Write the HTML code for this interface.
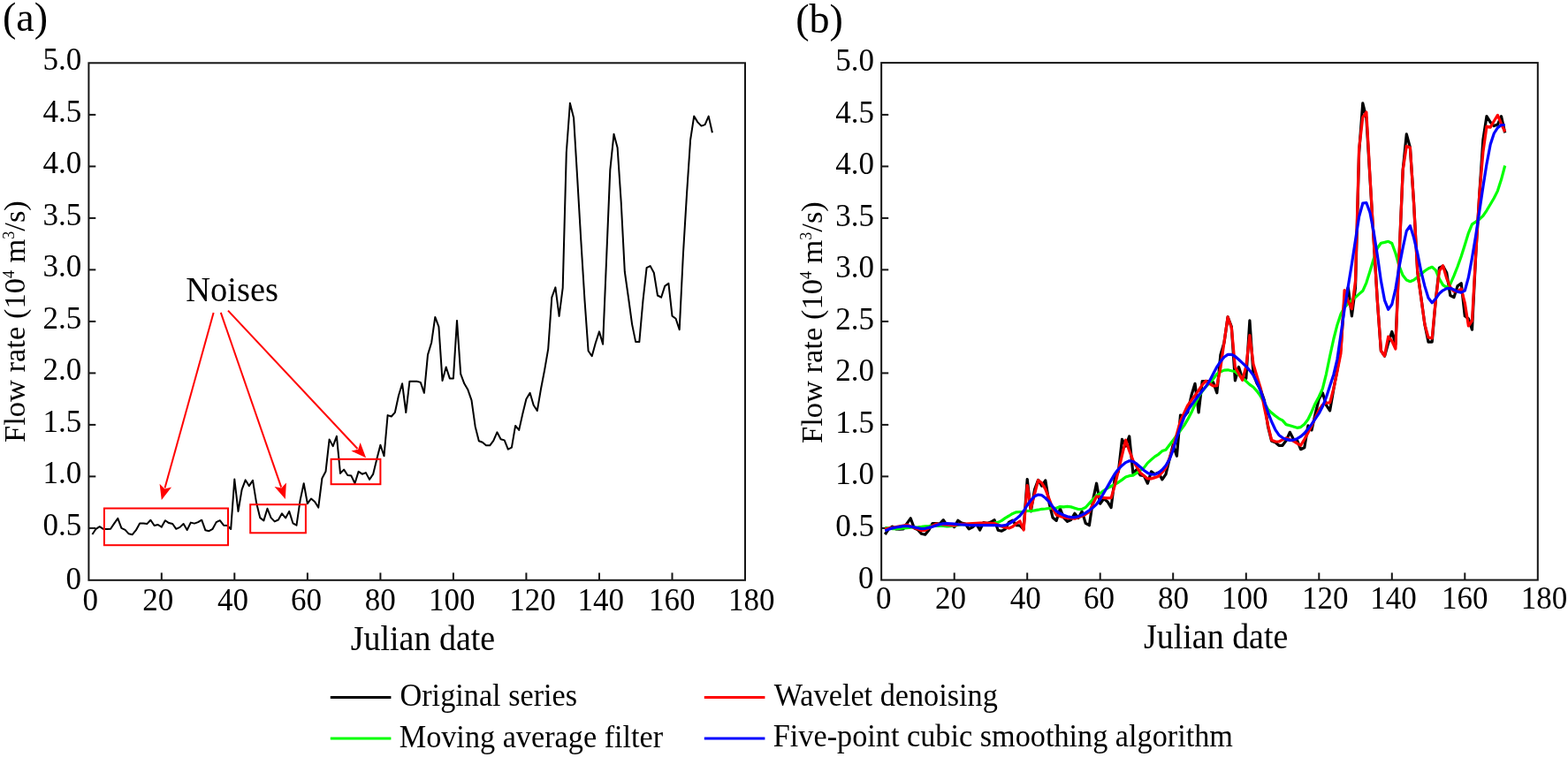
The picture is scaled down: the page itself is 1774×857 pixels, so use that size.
<!DOCTYPE html><html><head><meta charset="utf-8"><style>html,body{margin:0;padding:0;background:#fff;overflow:hidden}</style></head><body><svg width="1774" height="857" viewBox="0 0 1774 857" style="display:block">
<rect width="100%" height="100%" fill="#fff"/>
<style>.t{font-family:'Liberation Serif','Times New Roman',serif;font-size:36px;fill:#000}</style>
<rect x="100.4" y="71.3" width="742.60" height="585.50" fill="none" stroke="#151515" stroke-width="2"/>
<line x1="100.3" y1="597.9" x2="108.3" y2="597.9" stroke="#151515" stroke-width="2"/>
<line x1="100.3" y1="539.4" x2="108.3" y2="539.4" stroke="#151515" stroke-width="2"/>
<line x1="100.3" y1="480.9" x2="108.3" y2="480.9" stroke="#151515" stroke-width="2"/>
<line x1="100.3" y1="422.4" x2="108.3" y2="422.4" stroke="#151515" stroke-width="2"/>
<line x1="100.3" y1="363.9" x2="108.3" y2="363.9" stroke="#151515" stroke-width="2"/>
<line x1="100.3" y1="305.4" x2="108.3" y2="305.4" stroke="#151515" stroke-width="2"/>
<line x1="100.3" y1="246.9" x2="108.3" y2="246.9" stroke="#151515" stroke-width="2"/>
<line x1="100.3" y1="188.4" x2="108.3" y2="188.4" stroke="#151515" stroke-width="2"/>
<line x1="100.3" y1="129.9" x2="108.3" y2="129.9" stroke="#151515" stroke-width="2"/>
<line x1="182.8" y1="656.4" x2="182.8" y2="648.4" stroke="#151515" stroke-width="2"/>
<line x1="265.3" y1="656.4" x2="265.3" y2="648.4" stroke="#151515" stroke-width="2"/>
<line x1="347.9" y1="656.4" x2="347.9" y2="648.4" stroke="#151515" stroke-width="2"/>
<line x1="430.4" y1="656.4" x2="430.4" y2="648.4" stroke="#151515" stroke-width="2"/>
<line x1="512.9" y1="656.4" x2="512.9" y2="648.4" stroke="#151515" stroke-width="2"/>
<line x1="595.4" y1="656.4" x2="595.4" y2="648.4" stroke="#151515" stroke-width="2"/>
<line x1="678.0" y1="656.4" x2="678.0" y2="648.4" stroke="#151515" stroke-width="2"/>
<line x1="760.5" y1="656.4" x2="760.5" y2="648.4" stroke="#151515" stroke-width="2"/>
<text x="48.6" y="605.9" class="t" style="font-size:35px">0.5</text>
<text x="48.6" y="547.4" class="t" style="font-size:35px">1.0</text>
<text x="48.6" y="488.9" class="t" style="font-size:35px">1.5</text>
<text x="48.6" y="430.4" class="t" style="font-size:35px">2.0</text>
<text x="48.6" y="371.9" class="t" style="font-size:35px">2.5</text>
<text x="48.6" y="313.4" class="t" style="font-size:35px">3.0</text>
<text x="48.6" y="254.9" class="t" style="font-size:35px">3.5</text>
<text x="48.6" y="196.4" class="t" style="font-size:35px">4.0</text>
<text x="48.6" y="137.9" class="t" style="font-size:35px">4.5</text>
<text x="48.6" y="79.4" class="t" style="font-size:35px">5.0</text>
<text x="74.4" y="667.3" class="t" style="font-size:35px">0</text>
<text x="93.5" y="690.9" class="t" style="font-size:35px">0</text>
<text x="161.2" y="690.9" class="t" style="font-size:35px">20</text>
<text x="246.1" y="690.9" class="t" style="font-size:35px">40</text>
<text x="329.0" y="690.9" class="t" style="font-size:35px">60</text>
<text x="412.7" y="690.9" class="t" style="font-size:35px">80</text>
<text x="485.0" y="690.9" class="t" style="font-size:35px">100</text>
<text x="576.3" y="690.9" class="t" style="font-size:35px">120</text>
<text x="653.5" y="690.9" class="t" style="font-size:35px">140</text>
<text x="734.0" y="690.9" class="t" style="font-size:35px">160</text>
<text x="823.9" y="690.9" class="t" style="font-size:35px">180</text>
<text transform="translate(396.7,735.9) scale(1,1.035)" class="t" style="font-size:38px">Julian date</text>
<text x="3.0" y="34.6" class="t" style="font-size:46px">(a)</text>
<text transform="translate(27.5,501.0) rotate(-90)" class="t" style="font-size:34.5px">Flow rate (10<tspan dy="-12" font-size="18">4</tspan><tspan dy="12"> m</tspan><tspan dy="-12" font-size="18">3</tspan><tspan dy="12">/s)</tspan></text>
<rect x="997.15" y="71.1" width="742.65" height="585.50" fill="none" stroke="#151515" stroke-width="2"/>
<line x1="997.2" y1="597.9" x2="1005.2" y2="597.9" stroke="#151515" stroke-width="2"/>
<line x1="997.2" y1="539.4" x2="1005.2" y2="539.4" stroke="#151515" stroke-width="2"/>
<line x1="997.2" y1="480.9" x2="1005.2" y2="480.9" stroke="#151515" stroke-width="2"/>
<line x1="997.2" y1="422.4" x2="1005.2" y2="422.4" stroke="#151515" stroke-width="2"/>
<line x1="997.2" y1="363.9" x2="1005.2" y2="363.9" stroke="#151515" stroke-width="2"/>
<line x1="997.2" y1="305.4" x2="1005.2" y2="305.4" stroke="#151515" stroke-width="2"/>
<line x1="997.2" y1="246.9" x2="1005.2" y2="246.9" stroke="#151515" stroke-width="2"/>
<line x1="997.2" y1="188.4" x2="1005.2" y2="188.4" stroke="#151515" stroke-width="2"/>
<line x1="997.2" y1="129.9" x2="1005.2" y2="129.9" stroke="#151515" stroke-width="2"/>
<line x1="1079.7" y1="656.4" x2="1079.7" y2="648.4" stroke="#151515" stroke-width="2"/>
<line x1="1162.2" y1="656.4" x2="1162.2" y2="648.4" stroke="#151515" stroke-width="2"/>
<line x1="1244.7" y1="656.4" x2="1244.7" y2="648.4" stroke="#151515" stroke-width="2"/>
<line x1="1327.2" y1="656.4" x2="1327.2" y2="648.4" stroke="#151515" stroke-width="2"/>
<line x1="1409.8" y1="656.4" x2="1409.8" y2="648.4" stroke="#151515" stroke-width="2"/>
<line x1="1492.3" y1="656.4" x2="1492.3" y2="648.4" stroke="#151515" stroke-width="2"/>
<line x1="1574.8" y1="656.4" x2="1574.8" y2="648.4" stroke="#151515" stroke-width="2"/>
<line x1="1657.3" y1="656.4" x2="1657.3" y2="648.4" stroke="#151515" stroke-width="2"/>
<text x="945.3" y="606.6" class="t" style="font-size:35px">0.5</text>
<text x="945.3" y="548.1" class="t" style="font-size:35px">1.0</text>
<text x="945.3" y="489.6" class="t" style="font-size:35px">1.5</text>
<text x="945.3" y="431.1" class="t" style="font-size:35px">2.0</text>
<text x="945.3" y="372.6" class="t" style="font-size:35px">2.5</text>
<text x="945.3" y="314.1" class="t" style="font-size:35px">3.0</text>
<text x="945.3" y="255.6" class="t" style="font-size:35px">3.5</text>
<text x="945.3" y="197.1" class="t" style="font-size:35px">4.0</text>
<text x="945.3" y="138.6" class="t" style="font-size:35px">4.5</text>
<text x="945.3" y="80.1" class="t" style="font-size:35px">5.0</text>
<text x="971.1" y="666.3" class="t" style="font-size:35px">0</text>
<text x="991.1" y="689.2" class="t" style="font-size:35px">0</text>
<text x="1057.9" y="689.2" class="t" style="font-size:35px">20</text>
<text x="1142.8" y="689.2" class="t" style="font-size:35px">40</text>
<text x="1226.1" y="689.2" class="t" style="font-size:35px">60</text>
<text x="1310.0" y="689.2" class="t" style="font-size:35px">80</text>
<text x="1381.9" y="689.2" class="t" style="font-size:35px">100</text>
<text x="1473.0" y="689.2" class="t" style="font-size:35px">120</text>
<text x="1550.2" y="689.2" class="t" style="font-size:35px">140</text>
<text x="1630.9" y="689.2" class="t" style="font-size:35px">160</text>
<text x="1720.7" y="689.2" class="t" style="font-size:35px">180</text>
<text transform="translate(1293.9,733.9) scale(1,1.035)" class="t" style="font-size:38px">Julian date</text>
<text x="900.3" y="36.8" class="t" style="font-size:46px">(b)</text>
<text transform="translate(930,502.0) rotate(-90)" class="t" style="font-size:34.5px">Flow rate (10<tspan dy="-12" font-size="18">4</tspan><tspan dy="12"> m</tspan><tspan dy="-12" font-size="18">3</tspan><tspan dy="12">/s)</tspan></text>
<polyline points="104.4,605.0 108.6,598.8 112.7,596.2 116.8,598.8 120.9,599.1 125.1,598.8 129.2,592.6 133.3,586.8 137.4,597.9 141.6,599.8 145.7,604.3 149.8,605.2 153.9,600.2 158.1,592.6 162.2,592.6 166.3,593.1 170.4,588.7 174.6,595.0 178.7,594.0 182.8,596.6 186.9,589.2 191.1,592.1 195.2,593.0 199.3,598.8 203.5,596.9 207.6,593.0 211.7,600.0 215.8,591.6 220.0,592.6 224.1,591.1 228.2,588.7 232.3,600.2 236.5,601.2 240.6,598.8 244.7,591.1 248.8,589.2 253.0,594.7 257.1,595.0 261.2,599.0 265.3,542.5 269.5,578.9 273.6,554.4 277.7,543.4 281.8,550.1 286.0,543.9 290.1,569.3 294.2,586.1 298.4,589.4 302.5,575.8 306.6,586.1 310.7,590.4 314.9,588.5 319.0,581.3 323.1,586.5 327.2,578.9 331.4,592.3 335.5,594.7 339.6,566.4 343.7,547.2 347.9,570.2 352.0,564.5 356.1,567.9 360.2,574.6 364.4,541.5 368.5,533.8 372.6,497.4 376.7,505.1 380.9,493.9 385.0,535.9 389.1,531.6 393.3,538.0 397.4,538.6 401.5,547.2 405.6,533.9 409.8,536.7 413.9,535.1 418.0,542.9 422.1,536.9 426.3,519.8 430.4,503.7 434.5,516.3 438.6,470.1 442.8,471.5 446.9,466.8 451.0,447.8 455.1,434.3 459.3,467.0 463.4,431.7 467.5,431.7 471.7,431.7 475.8,432.9 479.9,444.8 484.0,401.6 488.2,387.7 492.3,358.9 496.4,369.8 500.5,430.9 504.7,415.5 508.8,428.4 512.9,428.4 517.0,362.9 521.2,423.4 525.3,434.3 529.4,441.3 533.5,453.2 537.7,482.9 541.8,499.2 545.9,500.8 550.0,504.3 554.2,504.3 558.3,498.8 562.4,489.3 566.6,497.2 570.7,498.4 574.8,508.7 578.9,506.7 583.1,481.9 587.2,486.9 591.3,468.5 595.4,451.7 599.6,444.8 603.7,458.7 607.8,465.0 611.9,440.8 616.1,419.0 620.2,395.2 624.3,336.7 628.4,325.4 632.6,357.9 636.7,325.8 640.8,172.8 644.9,116.8 649.1,133.6 653.2,202.0 657.3,272.0 661.5,340.0 665.6,397.2 669.7,403.2 673.8,388.3 678.0,375.4 682.1,389.7 686.2,291.0 690.3,192.4 694.5,151.8 698.6,167.2 702.7,228.8 706.8,307.5 711.0,337.0 715.1,367.1 719.2,387.1 723.3,387.1 727.5,339.8 731.6,303.1 735.7,301.1 739.8,308.7 744.0,334.5 748.1,336.7 752.2,323.9 756.4,320.8 760.5,357.7 764.6,360.7 768.7,373.2 772.9,288.0 777.0,220.0 781.1,158.3 785.2,131.6 789.4,138.4 793.5,142.6 797.6,141.1 801.7,131.6 805.9,150.3" fill="none" stroke="#000" stroke-width="2.0" stroke-linejoin="round"/>
<rect x="117.9" y="575.5" width="140.1" height="41.7" fill="none" stroke="#f00" stroke-width="2"/>
<rect x="283.2" y="571.2" width="62.7" height="32.1" fill="none" stroke="#f00" stroke-width="2"/>
<rect x="374.6" y="519.8" width="55.8" height="28.4" fill="none" stroke="#f00" stroke-width="2"/>
<line x1="241.6" y1="353.9" x2="186.5" y2="552.6" stroke="#f00" stroke-width="2"/><polygon points="182.8,566.1 180.6,547.8 186.3,553.6 194.1,551.6" fill="#f00"/>
<line x1="249.8" y1="353.9" x2="318.2" y2="551.7" stroke="#f00" stroke-width="2"/><polygon points="322.8,564.9 310.6,551.1 318.5,552.6 323.9,546.5" fill="#f00"/>
<line x1="258" y1="351.6" x2="404.5" y2="508.0" stroke="#f00" stroke-width="2"/><polygon points="414.1,518.2 397.4,510.6 405.2,508.7 407.6,501.0" fill="#f00"/>
<text transform="translate(210.3,340.9) scale(1,1.035)" class="t" style="font-size:38.5px">Noises</text>
<polyline points="1001.3,605.0 1005.5,598.8 1009.6,596.2 1013.7,598.8 1017.8,599.1 1022.0,598.8 1026.1,592.6 1030.2,586.8 1034.3,597.9 1038.5,599.8 1042.6,604.3 1046.7,605.2 1050.8,600.2 1055.0,592.6 1059.1,592.6 1063.2,593.1 1067.3,588.7 1071.5,595.0 1075.6,594.0 1079.7,596.6 1083.8,589.2 1088.0,592.1 1092.1,593.0 1096.2,598.8 1100.3,596.9 1104.5,593.0 1108.6,600.0 1112.7,591.6 1116.8,592.6 1121.0,591.1 1125.1,588.7 1129.2,600.2 1133.3,601.2 1137.5,598.8 1141.6,591.1 1145.7,589.2 1149.8,594.7 1154.0,595.0 1158.1,599.0 1162.2,542.5 1166.3,578.9 1170.5,554.4 1174.6,543.4 1178.7,550.1 1182.8,543.9 1187.0,569.3 1191.1,586.1 1195.2,589.4 1199.4,575.8 1203.5,586.1 1207.6,590.4 1211.7,588.5 1215.9,581.3 1220.0,586.5 1224.1,578.9 1228.2,592.3 1232.4,594.7 1236.5,566.4 1240.6,547.2 1244.7,570.2 1248.9,564.5 1253.0,567.9 1257.1,574.6 1261.2,541.5 1265.4,533.8 1269.5,497.4 1273.6,505.1 1277.7,493.9 1281.9,535.9 1286.0,531.6 1290.1,538.0 1294.2,538.6 1298.4,547.2 1302.5,533.9 1306.6,536.7 1310.7,535.1 1314.9,542.9 1319.0,536.9 1323.1,519.8 1327.2,503.7 1331.4,516.3 1335.5,470.1 1339.6,471.5 1343.7,466.8 1347.9,447.8 1352.0,434.3 1356.1,467.0 1360.2,431.7 1364.4,431.7 1368.5,431.7 1372.6,432.9 1376.8,444.8 1380.9,401.6 1385.0,387.7 1389.1,358.9 1393.3,369.8 1397.4,430.9 1401.5,415.5 1405.6,428.4 1409.8,428.4 1413.9,362.9 1418.0,423.4 1422.1,434.3 1426.3,441.3 1430.4,453.2 1434.5,482.9 1438.6,499.2 1442.8,500.8 1446.9,504.3 1451.0,504.3 1455.1,498.8 1459.3,489.3 1463.4,497.2 1467.5,498.4 1471.6,508.7 1475.8,506.7 1479.9,481.9 1484.0,486.9 1488.1,468.5 1492.3,451.7 1496.4,444.8 1500.5,458.7 1504.6,465.0 1508.8,440.8 1512.9,419.0 1517.0,395.2 1521.1,336.7 1525.3,325.4 1529.4,357.9 1533.5,325.8 1537.6,172.8 1541.8,116.8 1545.9,133.6 1550.0,202.0 1554.2,272.0 1558.3,340.0 1562.4,397.2 1566.5,403.2 1570.7,388.3 1574.8,375.4 1578.9,389.7 1583.0,291.0 1587.2,192.4 1591.3,151.8 1595.4,167.2 1599.5,228.8 1603.7,307.5 1607.8,337.0 1611.9,367.1 1616.0,387.1 1620.2,387.1 1624.3,339.8 1628.4,303.1 1632.5,301.1 1636.7,308.7 1640.8,334.5 1644.9,336.7 1649.0,323.9 1653.2,320.8 1657.3,357.7 1661.4,360.7 1665.5,373.2 1669.7,288.0 1673.8,220.0 1677.9,158.3 1682.0,131.6 1686.2,138.4 1690.3,142.6 1694.4,141.1 1698.5,131.6 1702.7,150.3" fill="none" stroke="#000" stroke-width="3.2" stroke-linejoin="round"/>
<polyline points="1001.3,597.4 1005.5,598.0 1009.6,598.6 1013.7,598.7 1017.8,598.3 1022.0,597.9 1026.1,597.6 1030.2,597.1 1034.3,597.0 1038.5,596.8 1042.6,596.4 1046.7,595.9 1050.8,595.7 1055.0,595.3 1059.1,595.3 1063.2,595.2 1067.3,595.3 1071.5,595.9 1075.6,595.6 1079.7,595.2 1083.8,594.5 1088.0,593.7 1092.1,593.7 1096.2,594.1 1100.3,594.5 1104.5,594.3 1108.6,594.4 1112.7,594.4 1116.8,594.4 1121.0,594.5 1125.1,592.1 1129.2,591.4 1133.3,589.4 1137.5,586.4 1141.6,584.0 1145.7,581.4 1149.8,579.8 1154.0,579.5 1158.1,579.3 1162.2,578.5 1166.3,578.4 1170.5,577.9 1174.6,577.2 1178.7,576.3 1182.8,576.0 1187.0,575.5 1191.1,575.4 1195.2,575.3 1199.4,573.6 1203.5,573.9 1207.6,573.4 1211.7,573.9 1215.9,575.2 1220.0,576.5 1224.1,576.4 1228.2,574.5 1232.4,569.9 1236.5,565.4 1240.6,561.1 1244.7,558.5 1248.9,555.4 1253.0,552.7 1257.1,550.5 1261.2,548.4 1265.4,546.0 1269.5,543.1 1273.6,540.0 1277.7,538.7 1281.9,538.2 1286.0,535.5 1290.1,532.3 1294.2,529.6 1298.4,524.1 1302.5,520.4 1306.6,516.9 1310.7,514.3 1314.9,510.6 1319.0,509.2 1323.1,503.7 1327.2,498.4 1331.4,492.8 1335.5,487.3 1339.6,481.9 1343.7,474.9 1347.9,467.1 1352.0,457.8 1356.1,448.7 1360.2,443.1 1364.4,437.6 1368.5,433.7 1372.6,429.0 1376.8,423.4 1380.9,420.9 1385.0,419.1 1389.1,418.8 1393.3,419.8 1397.4,420.6 1401.5,424.2 1405.6,427.8 1409.8,431.6 1413.9,435.4 1418.0,438.2 1422.1,442.9 1426.3,448.6 1430.4,456.0 1434.5,463.3 1438.6,467.3 1442.8,470.8 1446.9,473.8 1451.0,475.9 1455.1,480.6 1459.3,481.7 1463.4,483.0 1467.5,484.3 1471.6,483.6 1475.8,480.3 1479.9,474.8 1484.0,466.2 1488.1,456.7 1492.3,449.0 1496.4,439.9 1500.5,423.3 1504.6,403.2 1508.8,384.0 1512.9,367.9 1517.0,355.6 1521.1,348.1 1525.3,343.4 1529.4,339.9 1533.5,336.6 1537.6,332.9 1541.8,329.3 1545.9,320.1 1550.0,307.1 1554.2,293.0 1558.3,281.0 1562.4,275.3 1566.5,274.4 1570.7,273.3 1574.8,275.5 1578.9,286.7 1583.0,301.0 1587.2,311.8 1591.3,317.1 1595.4,318.7 1599.5,317.0 1603.7,313.7 1607.8,310.2 1611.9,306.8 1616.0,304.0 1620.2,302.3 1624.3,305.9 1628.4,315.5 1632.5,322.6 1636.7,325.4 1640.8,321.7 1644.9,312.4 1649.0,302.0 1653.2,290.2 1657.3,277.2 1661.4,263.8 1665.5,253.8 1669.7,251.1 1673.8,248.1 1677.9,244.3 1682.0,238.3 1686.2,231.3 1690.3,224.2 1694.4,216.1 1698.5,203.3 1702.7,187.5" fill="none" stroke="#00ff00" stroke-width="3.2" stroke-linejoin="round"/>
<polyline points="1001.3,598.9 1005.5,598.1 1009.6,597.3 1013.7,596.5 1017.8,595.8 1022.0,595.0 1026.1,594.2 1030.2,595.8 1034.3,597.4 1038.5,599.1 1042.6,600.7 1046.7,600.3 1050.8,597.9 1055.0,595.5 1059.1,593.1 1063.2,593.5 1067.3,593.9 1071.5,594.2 1075.6,594.6 1079.7,595.0 1083.8,593.7 1088.0,593.4 1092.1,593.1 1096.2,592.8 1100.3,592.5 1104.5,592.3 1108.6,592.1 1112.7,592.0 1116.8,592.2 1121.0,592.3 1125.1,592.5 1129.2,594.2 1133.3,595.9 1137.5,597.2 1141.6,598.0 1145.7,596.2 1149.8,592.7 1154.0,590.0 1158.1,600.0 1162.2,549.6 1166.3,575.7 1170.5,559.4 1174.6,543.7 1178.7,546.8 1182.8,553.9 1187.0,564.9 1191.1,575.9 1195.2,582.9 1199.4,584.5 1203.5,585.6 1207.6,586.4 1211.7,586.7 1215.9,587.1 1220.0,585.8 1224.1,584.2 1228.2,582.2 1232.4,579.5 1236.5,570.5 1240.6,562.0 1244.7,562.3 1248.9,563.7 1253.0,563.9 1257.1,563.7 1261.2,549.9 1265.4,532.7 1269.5,515.4 1273.6,498.2 1277.7,510.4 1281.9,521.2 1286.0,528.4 1290.1,535.2 1294.2,538.6 1298.4,541.9 1302.5,541.9 1306.6,540.6 1310.7,539.2 1314.9,534.7 1319.0,529.5 1323.1,518.6 1327.2,507.1 1331.4,491.5 1335.5,476.5 1339.6,467.6 1343.7,458.9 1347.9,453.3 1352.0,447.7 1356.1,441.8 1360.2,435.6 1364.4,431.2 1368.5,434.3 1372.6,437.0 1376.8,436.7 1380.9,416.3 1385.0,387.4 1389.1,358.9 1393.3,371.0 1397.4,415.6 1401.5,422.9 1405.6,430.3 1409.8,414.6 1413.9,379.7 1418.0,412.3 1422.1,426.0 1426.3,439.6 1430.4,461.4 1434.5,481.0 1438.6,498.2 1442.8,499.8 1446.9,500.0 1451.0,497.9 1455.1,495.9 1459.3,497.6 1463.4,499.4 1467.5,501.9 1471.6,504.3 1475.8,497.3 1479.9,489.9 1484.0,481.7 1488.1,473.0 1492.3,463.9 1496.4,458.1 1500.5,456.1 1504.6,455.8 1508.8,439.8 1512.9,420.6 1517.0,400.0 1521.1,328.7 1525.3,341.0 1529.4,349.7 1533.5,318.0 1537.6,168.6 1541.8,132.7 1545.9,127.0 1550.0,200.0 1554.2,272.0 1558.3,340.0 1562.4,397.0 1566.5,403.0 1570.7,381.0 1574.8,386.0 1578.9,395.0 1583.0,291.0 1587.2,192.4 1591.3,165.4 1595.4,167.0 1599.5,228.8 1603.7,307.5 1607.8,337.0 1611.9,367.1 1616.0,382.0 1620.2,383.0 1624.3,340.0 1628.4,306.8 1632.5,300.8 1636.7,315.1 1640.8,325.0 1644.9,330.0 1649.0,329.7 1653.2,327.0 1657.3,342.8 1661.4,369.0 1665.5,363.0 1669.7,288.0 1673.8,220.0 1677.9,172.4 1682.0,143.1 1686.2,144.1 1690.3,137.0 1694.4,130.4 1698.5,140.2 1702.7,149.2" fill="none" stroke="#ff0000" stroke-width="3.2" stroke-linejoin="round"/>
<polyline points="1001.3,600.9 1005.5,599.1 1009.6,597.9 1013.7,597.0 1017.8,596.3 1022.0,595.7 1026.1,595.5 1030.2,596.1 1034.3,596.9 1038.5,597.8 1042.6,598.6 1046.7,598.3 1050.8,597.4 1055.0,596.2 1059.1,594.9 1063.2,593.6 1067.3,592.8 1071.5,592.7 1075.6,592.8 1079.7,593.1 1083.8,593.6 1088.0,594.0 1092.1,594.2 1096.2,594.5 1100.3,594.6 1104.5,594.6 1108.6,594.6 1112.7,594.6 1116.8,594.6 1121.0,594.6 1125.1,594.6 1129.2,594.8 1133.3,595.1 1137.5,594.6 1141.6,592.8 1145.7,590.3 1149.8,587.4 1154.0,583.8 1158.1,578.5 1162.2,572.0 1166.3,566.3 1170.5,561.9 1174.6,560.0 1178.7,560.7 1182.8,563.8 1187.0,568.2 1191.1,573.7 1195.2,578.6 1199.4,581.3 1203.5,583.2 1207.6,584.7 1211.7,585.6 1215.9,585.6 1220.0,584.8 1224.1,583.0 1228.2,580.6 1232.4,577.8 1236.5,574.7 1240.6,570.8 1244.7,565.0 1248.9,558.0 1253.0,550.9 1257.1,543.6 1261.2,536.5 1265.4,531.1 1269.5,526.9 1273.6,523.6 1277.7,521.7 1281.9,522.5 1286.0,525.2 1290.1,528.7 1294.2,532.5 1298.4,535.4 1302.5,537.0 1306.6,537.1 1310.7,535.3 1314.9,531.8 1319.0,527.0 1323.1,520.1 1327.2,509.5 1331.4,495.4 1335.5,483.1 1339.6,472.6 1343.7,464.9 1347.9,458.8 1352.0,453.1 1356.1,447.7 1360.2,442.6 1364.4,437.4 1368.5,431.2 1372.6,423.3 1376.8,415.3 1380.9,409.2 1385.0,404.2 1389.1,401.4 1393.3,401.4 1397.4,403.5 1401.5,407.0 1405.6,410.8 1409.8,414.8 1413.9,419.4 1418.0,424.9 1422.1,432.5 1426.3,443.1 1430.4,454.5 1434.5,466.5 1438.6,477.3 1442.8,486.3 1446.9,492.4 1451.0,495.6 1455.1,497.4 1459.3,498.4 1463.4,498.1 1467.5,496.7 1471.6,494.2 1475.8,490.5 1479.9,485.6 1484.0,480.1 1488.1,474.2 1492.3,467.9 1496.4,460.1 1500.5,449.7 1504.6,437.1 1508.8,424.2 1512.9,406.8 1517.0,378.8 1521.1,350.0 1525.3,324.1 1529.4,298.8 1533.5,272.1 1537.6,245.4 1541.8,230.2 1545.9,229.5 1550.0,240.8 1554.2,262.7 1558.3,288.7 1562.4,317.9 1566.5,339.8 1570.7,350.3 1574.8,344.5 1578.9,327.1 1583.0,302.3 1587.2,280.4 1591.3,261.5 1595.4,255.6 1599.5,268.9 1603.7,286.6 1607.8,307.3 1611.9,323.9 1616.0,337.3 1620.2,342.7 1624.3,338.1 1628.4,332.3 1632.5,328.8 1636.7,326.6 1640.8,326.3 1644.9,328.0 1649.0,330.1 1653.2,331.1 1657.3,329.1 1661.4,314.0 1665.5,291.9 1669.7,266.4 1673.8,239.1 1677.9,211.5 1682.0,185.6 1686.2,163.5 1690.3,151.0 1694.4,144.6 1698.5,141.5 1702.7,141.5" fill="none" stroke="#0000ff" stroke-width="3.2" stroke-linejoin="round"/>
<line x1="373.8" y1="789.5" x2="442.4" y2="789.5" stroke="#000" stroke-width="3"/><text transform="translate(452.5,799.4) scale(1,1.07)" class="t" style="font-size:34.25px">Original series</text>
<line x1="373.8" y1="836" x2="442.4" y2="836" stroke="#00ff00" stroke-width="3"/><text transform="translate(451.7,845.5) scale(1,1.07)" class="t" style="font-size:34.25px">Moving average filter</text>
<line x1="796.8" y1="789.5" x2="865.4" y2="789.5" stroke="#f00" stroke-width="3"/><text transform="translate(875.8,799.3) scale(1,1.07)" class="t" style="font-size:34.25px">Wavelet denoising</text>
<line x1="796.8" y1="836" x2="865.4" y2="836" stroke="#00f" stroke-width="3"/><text transform="translate(874.8,844.9) scale(1,1.07)" class="t" style="font-size:34.25px">Five-point cubic smoothing algorithm</text>
</svg></body></html>
